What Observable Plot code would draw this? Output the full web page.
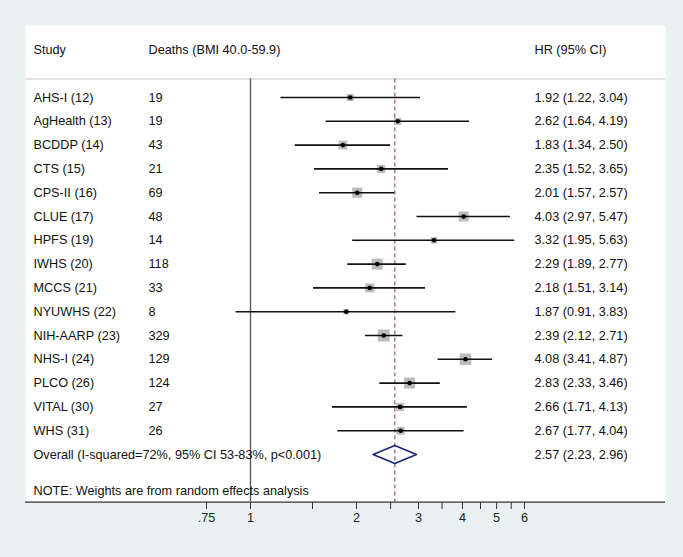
<!DOCTYPE html>
<html>
<head>
<meta charset="utf-8">
<script src="https://cdn.jsdelivr.net/npm/d3@7"></script>
<script src="https://cdn.jsdelivr.net/npm/@observablehq/plot@0.6"></script>
<style>
  html, body { margin: 0; padding: 0; background: #eaf1f3; }
  #chart svg { display: block; }
</style>
</head>
<body>
<div id="chart"></div>
<script>
// ---- data ----
const studies = ["AHS-I (12)","AgHealth (13)","BCDDP (14)","CTS (15)","CPS-II (16)","CLUE (17)","HPFS (19)","IWHS (20)","MCCS (21)","NYUWHS (22)","NIH-AARP (23)","NHS-I (24)","PLCO (26)","VITAL (30)","WHS (31)"];
const deaths = [19,19,43,21,69,48,14,118,33,8,329,129,124,27,26];
const hr = [1.92,2.62,1.83,2.35,2.01,4.03,3.32,2.29,2.18,1.87,2.39,4.08,2.83,2.66,2.67];
const lo = [1.22,1.64,1.34,1.52,1.57,2.97,1.95,1.89,1.51,0.91,2.12,3.41,2.33,1.71,1.77];
const hi = [3.04,4.19,2.50,3.65,2.57,5.47,5.63,2.77,3.14,3.83,2.71,4.87,3.46,4.13,4.04];
const weights = [4.0,4.0,6.1,5.2,8.1,8.1,3.4,9.8,6.5,2.4,11.6,10.7,9.8,5.2,5.2]; // estimated (%)
const overallLabel = "Overall (I-squared=72%, 95% CI 53-83%, p<0.001)";
const overall = {hr: 2.57, lo: 2.23, hi: 2.96};
const headers = ["Study", "Deaths (BMI 40.0-59.9)", "HR (95% CI)"];
const note = "NOTE: Weights are from random effects analysis";
const tickValues = [0.75,1,1.5,2,2.5,3,3.5,4,4.5,5,5.5,6];
const tickLabels = {0.75: ".75", 1: "1", 2: "2", 3: "3", 4: "4", 5: "5", 6: "6"};

// ---- derived table ----
const rows = studies.map((s, i) => ({i, study: s, deaths: deaths[i], hr: hr[i], lo: lo[i], hi: hi[i], w: weights[i],
  label: `${hr[i].toFixed(2)} (${lo[i].toFixed(2)}, ${hi[i].toFixed(2)})`}));
const oRow = studies.length; // 15
const overallRow = {i: oRow, study: overallLabel, label: `${overall.hr.toFixed(2)} (${overall.lo.toFixed(2)}, ${overall.hi.toFixed(2)})`};
const headerRow = -2, sepRow = -0.78, noteRow = 16.55, axisRow = 17;
const dh = 0.38;
const diamond = [
  {x: overall.lo, y: oRow}, {x: overall.hr, y: oRow - dh}, {x: overall.hi, y: oRow},
  {x: overall.hr, y: oRow + dh}, {x: overall.lo, y: oRow}
];

const font = "'Liberation Sans', Arial, sans-serif";
const txt = "#111";
const fs = 12.7;
const col1 = 8, col2 = 123, col3 = 509;

const chart = Plot.plot({
  width: 683,
  height: 557,
  marginTop: 25,
  marginLeft: 25,
  marginRight: 18,
  marginBottom: 55,
  style: {background: "#eaf1f3", fontFamily: font, fontSize: fs + "px", color: "#222"},
  x: {type: "log", domain: [1, 6], range: [250, 524]},
  y: {type: "linear", domain: [0, 15], range: [97, 454], axis: null},
  r: {type: "sqrt", domain: [0, 11.6], range: [0, 12 / Math.sqrt(Math.PI)]},
  marks: [
    Plot.frame({fill: "white", stroke: null}),
    Plot.ruleY([sepRow], {stroke: "#d9d9d9", strokeWidth: 1.5}),
    Plot.ruleY([axisRow], {stroke: "#333", strokeWidth: 1.2}),
    Plot.ruleX([1], {y1: sepRow, y2: axisRow, stroke: "#555", strokeWidth: 1.3}),
    Plot.ruleX([overall.hr], {y1: sepRow, y2: axisRow, stroke: "#90353b", strokeWidth: 1, strokeDasharray: "4,3"}),
    Plot.axisX({ticks: tickValues, tickFormat: d => tickLabels[d] ?? "", tickSize: 7, tickPadding: 3, stroke: "#333", fill: "#222", fontSize: fs}),
    // headers
    Plot.text([headers[0]], {frameAnchor: "left", y: () => headerRow, dx: col1, text: d => d, textAnchor: "start", fill: txt, fontSize: fs}),
    Plot.text([headers[1]], {frameAnchor: "left", y: () => headerRow, dx: col2, text: d => d, textAnchor: "start", fill: txt, fontSize: fs}),
    Plot.text([headers[2]], {frameAnchor: "left", y: () => headerRow, dx: col3, text: d => d, textAnchor: "start", fill: txt, fontSize: fs}),
    // study rows
    Plot.text(rows, {frameAnchor: "left", y: "i", dx: col1, text: "study", textAnchor: "start", fill: txt, fontSize: fs}),
    Plot.text(rows, {frameAnchor: "left", y: "i", dx: col2, text: d => String(d.deaths), textAnchor: "start", fill: txt, fontSize: fs}),
    Plot.text(rows, {frameAnchor: "left", y: "i", dx: col3, text: "label", textAnchor: "start", fill: txt, fontSize: fs}),
    Plot.dot(rows, {x: "hr", y: "i", r: "w", symbol: "square", fill: "#bcbcbc", stroke: null}),
    Plot.ruleY(rows, {y: "i", x1: "lo", x2: "hi", stroke: "#111", strokeWidth: 1.6}),
    Plot.dot(rows, {x: "hr", y: "i", r: 2.3, fill: "#000", stroke: null}),
    // overall
    Plot.text([overallRow], {frameAnchor: "left", y: "i", dx: col1, text: "study", textAnchor: "start", fill: txt, fontSize: fs}),
    Plot.text([overallRow], {frameAnchor: "left", y: "i", dx: col3, text: "label", textAnchor: "start", fill: txt, fontSize: fs}),
    Plot.line(diamond, {x: "x", y: "y", stroke: "#1b2580", strokeWidth: 1.6}),
    // note
    Plot.text([note], {frameAnchor: "left", y: () => noteRow, dx: col1, text: d => d, textAnchor: "start", fill: txt, fontSize: fs})
  ]
});
document.getElementById("chart").appendChild(chart);
</script>
</body>
</html>
